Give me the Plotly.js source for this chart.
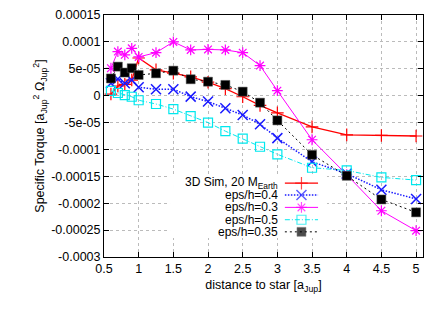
<!DOCTYPE html>
<html>
<head>
<meta charset="utf-8">
<script src="https://cdn.plot.ly/plotly-3.0.1.min.js"></script>
<style>html,body{margin:0;padding:0;background:#fff;}#chart{width:442px;height:309px;}</style>
</head>
<body>
<div id="chart"></div>
<script>
// ---- data ----
const distance = [0.6, 0.7, 0.8, 0.9, 1.0, 1.25, 1.5, 1.75, 2.0, 2.25, 2.5, 2.75, 3.0, 3.5, 4.0, 4.5, 5.0];
const sim3d   = [3e-6, 1.8e-5, 2.1e-5, 2.9e-5, 7.0e-5, 4.8e-5, 4.2e-5, 3.5e-5, 2.5e-5, 1.3e-5, -2e-6, -1.8e-5, -3.2e-5, -5.8e-5, -7.3e-5, -7.4e-5, -7.5e-5];
const eps04   = [2.3e-5, 3.1e-5, 2.3e-5, 2.9e-5, 1.55e-5, 1.2e-5, 1.2e-5, -1.8e-6, -1.1e-5, -2.35e-5, -3.6e-5, -5.3e-5, -7.9e-5, -1.23e-4, -1.45e-4, -1.75e-4, -1.92e-4];
const eps03   = [5.1e-5, 8.2e-5, 7.6e-5, 8.8e-5, 7.2e-5, 8.0e-5, 1.0e-4, 8.5e-5, 8.6e-5, 8.5e-5, 8.0e-5, 5.6e-5, 9.3e-6, -8.2e-5, -1.47e-4, -2.14e-4, -2.51e-4];
const eps05   = [9e-6, 5e-6, 1e-6, -2e-6, -8.5e-6, -1.55e-5, -2.5e-5, -3.8e-5, -5.0e-5, -6.6e-5, -8.0e-5, -9.5e-5, -1.09e-4, -1.34e-4, -1.39e-4, -1.52e-4, -1.57e-4];
const eps035  = [3.2e-5, 5.4e-5, 4.3e-5, 5.1e-5, 3.85e-5, 4.15e-5, 4.65e-5, 3.05e-5, 2.6e-5, 2.0e-5, 7.5e-6, -1.3e-5, -4.6e-5, -1.1e-4, -1.49e-4, -1.93e-4, -2.17e-4];

const seriesNames = ['3D Sim, 20 M<sub>Earth</sub>', 'eps/h=0.4', 'eps/h=0.3', 'eps/h=0.5', 'eps/h=0.35'];
const xTickVals = [0.5, 1, 1.5, 2, 2.5, 3, 3.5, 4, 4.5, 5];
const xTickText = ['0.5', '1', '1.5', '2', '2.5', '3', '3.5', '4', '4.5', '5'];
const yTickVals = [0.00015, 0.0001, 0.00005, 0, -0.00005, -0.0001, -0.00015, -0.0002, -0.00025, -0.0003];
const yTickText = ['0.00015', '0.0001', '5e-05', '0', '-5e-05', '-0.0001', '-0.00015', '-0.0002', '-0.00025', '-0.0003'];

// ---- styles ----
const styles = [
  {color: '#ff0000', width: 1.3, dash: 'solid', symbol: 'cross-thin-open', size: 9, mlw: 1.2, fill: false},
  {color: '#1a1aff', width: 1.5, dash: '1.5px,1.5px', symbol: 'x-thin-open', size: 10, mlw: 1.5, fill: false},
  {color: '#ff00ff', width: 1, dash: 'solid', symbol: 'asterisk-open', size: 9, mlw: 1.2, fill: false},
  {color: '#00e8ee', width: 1, dash: '5px,2px,1px,2px', symbol: 'square-open', size: 9, mlw: 1.2, fill: false},
  {color: '#000000', width: 1, dash: '2px,3px', symbol: 'square', size: 9, mlw: 0.5, fill: true}
];
const allSeries = [sim3d, eps04, eps03, eps05, eps035];

const traces = allSeries.map((ys, i) => {
  const s = styles[i];
  return {
    type: 'scatter', mode: 'lines+markers', x: distance, y: ys, name: seriesNames[i],
    showlegend: false,
    line: {color: s.color, width: s.width, dash: s.dash},
    marker: {symbol: s.symbol, size: s.size, color: s.color, line: {color: s.fill ? '#555' : s.color, width: s.mlw}},
    xaxis: 'x', yaxis: 'y'
  };
});

// opaque key box (covers grid), on the overlay axes (0..1 of plot area)
const keyBox = {x0: 0.207, x1: 0.699, y0: 0.079, y1: 0.338};
traces.push({
  type: 'scatter', mode: 'lines', xaxis: 'x2', yaxis: 'y2', showlegend: false, hoverinfo: 'skip',
  x: [keyBox.x0, keyBox.x1, keyBox.x1, keyBox.x0, keyBox.x0],
  y: [keyBox.y0, keyBox.y0, keyBox.y1, keyBox.y1, keyBox.y0],
  fill: 'toself', fillcolor: '#ffffff', line: {width: 0, color: 'rgba(0,0,0,0)'}
});

// custom key (text left, sample right)
const keyTextX = 0.549, keyX0 = 0.567, keyX1 = 0.671, keyXm = 0.619;
const keyY = [0.305, 0.256, 0.205, 0.154, 0.104];
const font = {family: 'Liberation Sans, Arial, sans-serif', size: 12.5, color: '#000'};
const keyFont = {family: 'Liberation Sans, Arial, sans-serif', size: 12, color: '#000'};
const annotations = [];
seriesNames.forEach((nm, i) => {
  const s = styles[i];
  traces.push({
    type: 'scatter', mode: 'lines+markers', x: [keyX0, keyXm, keyX1], y: [keyY[i], keyY[i], keyY[i]],
    showlegend: false, hoverinfo: 'skip', xaxis: 'x2', yaxis: 'y2',
    line: {color: s.color, width: s.width, dash: s.dash},
    marker: {symbol: s.symbol, size: [0, s.size, 0], color: s.color, line: {color: s.fill ? '#555' : s.color, width: s.mlw}}
  });
  annotations.push({
    xref: 'x2', yref: 'y2', x: keyTextX, y: keyY[i], xanchor: 'right', yanchor: 'middle',
    text: nm, showarrow: false, font: keyFont, borderpad: 0
  });
});

const layout = {
  width: 442, height: 309,
  margin: {l: 104, r: 19, t: 15, b: 52},
  paper_bgcolor: '#fff', plot_bgcolor: '#fff',
  font: font,
  showlegend: false,
  xaxis: {
    range: [0.5, 5.1], tickvals: xTickVals, ticktext: xTickText,
    ticks: 'inside', ticklen: 5, tickcolor: '#000', mirror: 'ticks',
    showline: true, linecolor: '#000', linewidth: 1,
    showgrid: true, gridcolor: '#bbbbbb', griddash: 'dot', gridwidth: 1, zeroline: false,
    tickfont: font,
    title: {text: 'distance to star [a<sub>Jup</sub>]', font: font, standoff: 5}
  },
  yaxis: {
    range: [-0.0003, 0.00015], tickvals: yTickVals, ticktext: yTickText,
    ticks: 'inside', ticklen: 5, tickcolor: '#000', mirror: 'ticks',
    showline: true, linecolor: '#000', linewidth: 1,
    showgrid: true, gridcolor: '#bbbbbb', griddash: 'dot', gridwidth: 1, zeroline: false,
    tickfont: font,
    title: {text: 'Specific Torque [a<sub>Jup</sub><sup>2</sup> Ω<sub>Jup</sub><sup>2</sup>]', font: font, standoff: 3}
  },
  xaxis2: {overlaying: 'x', range: [0, 1], visible: false, fixedrange: true},
  yaxis2: {overlaying: 'y', range: [0, 1], visible: false, fixedrange: true},
  annotations: annotations
};

Plotly.newPlot('chart', traces, layout, {staticPlot: true, displayModeBar: false});
</script>
</body>
</html>
